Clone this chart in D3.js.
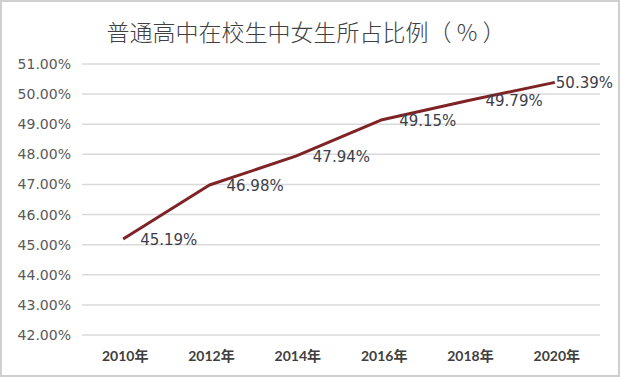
<!DOCTYPE html>
<html>
<head>
<meta charset="utf-8">
<script src="https://cdn.jsdelivr.net/npm/d3@7"></script>
<style>
  body { margin: 0; background: #fff; }
  svg { display: block; }
</style>
</head>
<body>
<div id="chart"></div>
<script>
const title = "普通高中在校生中女生所占比例（ % ）";
const years = ["2010年", "2012年", "2014年", "2016年", "2018年", "2020年"];
const shares = [45.19, 46.98, 47.94, 49.15, 49.79, 50.39];
const yTicks = [42, 43, 44, 45, 46, 47, 48, 49, 50, 51];

const W = 620, H = 377;
const margin = { top: 64, right: 20, bottom: 42, left: 82 };

const svg = d3.select("#chart").append("svg")
    .attr("width", W)
    .attr("height", H);

// frame
svg.append("rect")
    .attr("x", 1).attr("y", 1)
    .attr("width", W - 2).attr("height", H - 2)
    .style("fill", "#fff")
    .style("stroke", "#cfcfcf")
    .style("stroke-width", 2);

svg.append("text")
    .attr("x", 306)
    .attr("y", 31)
    .attr("text-anchor", "middle")
    .attr("dominant-baseline", "central")
    .style("font-family", "'Noto Sans CJK SC', sans-serif")
    .style("font-size", "23px")
    .style("font-weight", 300)
    .style("fill", "#404040")
    .text(title);

const x = d3.scaleBand()
    .domain(years)
    .range([margin.left, W - margin.right]);

const y = d3.scaleLinear()
    .domain([42, 51])
    .range([H - margin.bottom, margin.top]);

// gridlines
svg.selectAll(".grid")
    .data(yTicks)
    .enter().append("line")
    .attr("class", "grid")
    .attr("x1", margin.left)
    .attr("x2", W - margin.right)
    .attr("y1", d => y(d))
    .attr("y2", d => y(d))
    .style("stroke", "#d9d9d9")
    .style("stroke-width", 1.5);

// y axis labels
svg.selectAll(".ylab")
    .data(yTicks)
    .enter().append("text")
    .attr("class", "ylab")
    .attr("x", 71)
    .attr("y", d => y(d))
    .attr("text-anchor", "end")
    .attr("dominant-baseline", "central")
    .style("font-family", "'DejaVu Sans', sans-serif")
    .style("font-size", "14px")
    .style("fill", "#595959")
    .text(d => d3.format(".2f")(d) + "%");

// x axis labels
svg.selectAll(".xlab")
    .data(years)
    .enter().append("text")
    .attr("class", "xlab")
    .attr("x", d => x(d) + x.bandwidth() / 2)
    .attr("y", H - margin.bottom + 20)
    .attr("text-anchor", "middle")
    .attr("dominant-baseline", "central")
    .style("font-family", "Lato, 'Noto Sans CJK SC', sans-serif")
    .style("font-size", "14px")
    .style("font-weight", "bold")
    .style("fill", "#404040")
    .text(d => d);

const pts = years.map((d, i) => ({ year: d, value: shares[i] }));

const line = d3.line()
    .x(d => x(d.year) + x.bandwidth() / 2 - 2)
    .y(d => y(d.value));

svg.append("path")
    .datum(pts)
    .attr("d", line)
    .style("fill", "none")
    .style("stroke", "#7f2426")
    .style("stroke-width", 3)
    .style("stroke-linejoin", "round");

// value labels, pushed left if they would run off the plot
svg.selectAll(".vlab")
    .data(pts)
    .enter().append("text")
    .attr("class", "vlab")
    .attr("y", d => y(d.value) + 1)
    .attr("dominant-baseline", "central")
    .style("font-family", "'DejaVu Sans', sans-serif")
    .style("font-size", "15px")
    .style("fill", "#3d3d4a")
    .text(d => d.value.toFixed(2) + "%")
    .attr("x", function(d) {
        let px = x(d.year) + x.bandwidth() / 2 + 15;
        let w = this.getComputedTextLength();
        return Math.min(px, W - 7 - w);
    });
</script>
</body>
</html>
